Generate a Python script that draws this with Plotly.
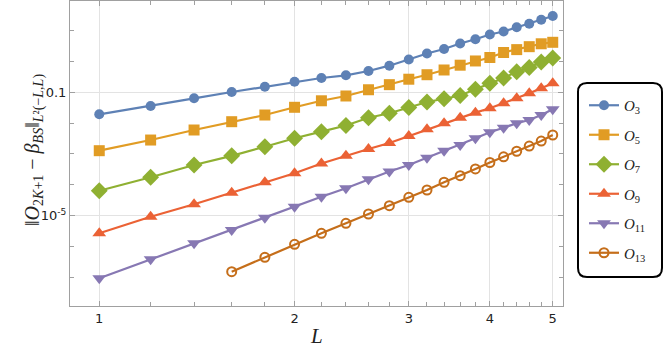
import plotly.graph_objects as go

# sample points (L) and norms
L = [1.0, 1.2, 1.4, 1.6, 1.8, 2.0, 2.2, 2.4, 2.6, 2.8, 3.0,
     3.2, 3.4, 3.6, 3.8, 4.0, 4.2, 4.4, 4.6, 4.8, 5.0]
L13 = L[3:]

O3 = [0.0193, 0.0359, 0.0638, 0.102, 0.152, 0.221, 0.291, 0.356, 0.492, 0.731, 1.16,
      1.82, 2.55, 3.84, 5.26, 7.53, 9.42, 13.0, 16.9, 22.6, 30.0]
O5 = [1.27e-3, 2.82e-3, 5.97e-3, 0.0111, 0.0183, 0.0326, 0.053, 0.0759, 0.121, 0.177, 0.266,
      0.372, 0.53, 0.758, 1.04, 1.35, 1.96, 2.43, 3.03, 3.76, 4.2]
O7 = [6.38e-5, 1.74e-4, 4.37e-4, 8.67e-4, 1.71e-3, 3.21e-3, 5.26e-3, 8.36e-3, 0.0149, 0.0208, 0.0321,
      0.0484, 0.0619, 0.0787, 0.125, 0.196, 0.291, 0.466, 0.638, 0.963, 1.30]
O9 = [2.64e-6, 9.14e-6, 2.31e-5, 5.5e-5, 1.2e-4, 2.35e-4, 4.88e-4, 8.67e-4, 1.44e-3, 2.26e-3, 3.81e-3,
      6.29e-3, 9.86e-3, 0.015, 0.0218, 0.0303, 0.044, 0.0638, 0.0929, 0.135, 0.196]
O11 = [9.14e-8, 3.79e-7, 1.25e-6, 3.38e-6, 8.49e-6, 1.93e-5, 4.07e-5, 7.64e-5, 1.51e-4, 2.69e-4, 4.37e-4,
       7.47e-4, 1.26e-3, 1.95e-3, 3.21e-3, 5.02e-3, 7.09e-3, 9.86e-3, 0.0126, 0.0183, 0.0281]
O13 = [1.5e-7, 4.4e-7, 1.16e-6, 2.64e-6, 5.58e-6, 1.12e-5, 2.08e-5, 3.9e-5,
       6.73e-5, 1.2e-4, 1.96e-4, 3.24e-4, 5.26e-4, 8.05e-4, 1.22e-3, 1.8e-3, 2.62e-3, 4.11e-3]

x_major = [1, 2, 3, 4, 5]
x_minor = [1.2, 1.4, 1.6, 1.8, 2.2, 2.4, 2.6, 2.8, 3.2, 3.4, 3.6, 3.8, 4.2, 4.4, 4.6, 4.8]
y_major = [1e-5, 0.1]
y_major_text = ["10<sup>-5</sup>", "0.1"]
y_minor = [1e-8, 1e-7, 1e-6, 1e-4, 1e-3, 1e-2, 1, 10, 100]

series = [
    ("3", L, O3, "#5E81B5", "circle", 10),
    ("5", L, O5, "#E19C24", "square", 11),
    ("7", L, O7, "#8FB032", "diamond", 13),
    ("9", L, O9, "#EB6235", "triangle-up", 12),
    ("11", L, O11, "#8778B3", "triangle-down", 12),
    ("13", L13, O13, "#C56E1A", "circle-open", 9),
]

fig = go.Figure()
for k, xs, ys, col, sym, sz in series:
    mk = dict(color=col, symbol=sym, size=sz)
    if sym == "circle-open":
        mk["line"] = dict(color=col, width=2)
    fig.add_trace(go.Scatter(
        x=xs, y=ys, mode="lines+markers", name="<i>O</i><sub>" + k + "</sub>",
        legendgroup=k, line=dict(color=col, width=2.2), marker=mk))

# plot area in pixels: x 70..563, y 1..306
W, H = 664, 359
ml, mr, mt, mb = 70, 101, 1, 53
pw, ph = W - ml - mr, H - mt - mb


def px(x, y):
    return (x - ml) / pw, (H - mb - y) / ph


# rounded legend frame
x0, x1, y0, y1, r = 578, 662, 83, 277, 9
pts = [
    ("M", px(x0 + r, y0)), ("L", px(x1 - r, y0)), ("Q", px(x1, y0), px(x1, y0 + r)),
    ("L", px(x1, y1 - r)), ("Q", px(x1, y1), px(x1 - r, y1)),
    ("L", px(x0 + r, y1)), ("Q", px(x0, y1), px(x0, y1 - r)),
    ("L", px(x0, y0 + r)), ("Q", px(x0, y0), px(x0 + r, y0)),
]
path = ""
for item in pts:
    path += item[0] + " " + " ".join(f"{a:.5f},{b:.5f}" for a, b in item[1:]) + " "
path += "Z"
fig.add_shape(type="path", path=path, xref="paper", yref="paper",
              line=dict(color="black", width=2))

# axis titles as annotations
tx, ty = px(316, 350)
fig.add_annotation(x=tx, y=ty, xref="paper", yref="paper", text="<i>L</i>", showarrow=False,
                   font=dict(family="Liberation Serif", size=21, color="#222"))
ax_, ay_ = px(19, 150)
fig.add_annotation(x=ax_, y=ay_, xref="paper", yref="paper", textangle=-90, showarrow=False,
                   text="‖<i>O</i><sub>2<i>K</i>+1</sub> − <i>β</i><sub><i>BS</i></sub>‖<sub><i>L</i>²(−<i>L</i>,<i>L</i>)</sub>",
                   font=dict(family="Liberation Serif", size=20, color="#222"))

lx, ly = px(584, 89)

frame = "#a0a0a0"
fig.update_xaxes(
    type="log", range=[-0.0451, 0.7148], automargin=False,
    tickvals=x_major, ticktext=[str(v) for v in x_major],
    ticks="inside", ticklen=5, tickcolor=frame,
    showline=True, linecolor=frame, linewidth=1, mirror="allticks",
    showgrid=True, gridcolor="#e3e3e3", gridwidth=1, zeroline=False,
    minor=dict(tickvals=x_minor, ticks="inside", ticklen=4, tickcolor=frame, showgrid=False),
    tickfont=dict(family="DejaVu Sans", size=13, color="#222"),
)
fig.update_yaxes(
    type="log", range=[-7.938, 1.964], automargin=False,
    tickvals=y_major, ticktext=y_major_text,
    ticks="inside", ticklen=5, tickcolor=frame,
    showline=True, linecolor=frame, linewidth=1, mirror="allticks",
    showgrid=True, gridcolor="#e3e3e3", gridwidth=1, zeroline=False,
    minor=dict(tickvals=y_minor, ticks="inside", ticklen=4, tickcolor=frame, showgrid=False),
    tickfont=dict(family="DejaVu Sans", size=13, color="#222"),
)
fig.update_layout(
    width=W, height=H,
    margin=dict(l=ml, r=mr, t=mt, b=mb, autoexpand=False),
    paper_bgcolor="white", plot_bgcolor="white",
    showlegend=True,
    legend=dict(x=lx, y=ly, xanchor="left", yanchor="top",
                bgcolor="rgba(0,0,0,0)", borderwidth=0, tracegroupgap=7,
                font=dict(family="Liberation Serif", size=15, color="#222")),
)
# the page body has a default 8px margin; drop it so the figure fills the window
fig.write_html("out.html", config={"displayModeBar": False},
               post_script="document.body.style.margin='0';")
